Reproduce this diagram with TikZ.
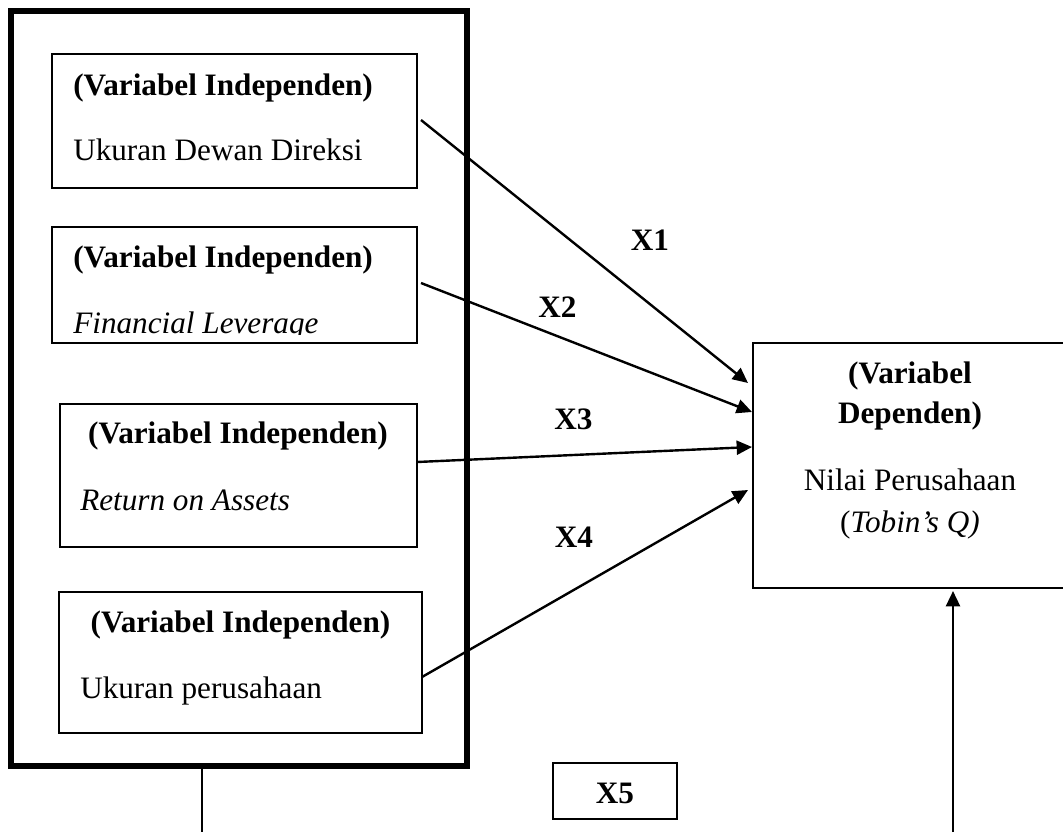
\documentclass[tikz,border=0pt]{standalone}
\usepackage{fontspec}
\setmainfont{Liberation Serif}
\usetikzlibrary{arrows.meta,fit}
\begin{document}
\begin{tikzpicture}[x=0.75pt,y=-0.75pt,
  box/.style={draw, line width=1.2pt, inner sep=0pt},
  outerbox/.style={draw, line width=3.8pt, inner sep=0pt},
  txt/.style={inner sep=0pt, font=\fontsize{23.4}{28}\selectfont},
  btxt/.style={inner sep=0pt, font=\fontsize{23.4}{28}\selectfont\bfseries},
  conn/.style={line width=1.8pt, -{Triangle[length=11.5pt,width=10.5pt]}},
  plain/.style={line width=1.6pt}]
\useasboundingbox (0,0) rectangle (1063,832);
\clip (0,0) rectangle (1063,832);

% outer frame
\node[outerbox, fit={(11,11) (467,766)}] (outer) {};

% independent boxes
\node[box, fit={(52,54) (417,188)}] (b1) {};
\node[box, fit={(52,227) (417,343)}] (b2) {};
\node[box, fit={(60,404) (417,547)}] (b3) {};
\node[box, fit={(59,592) (422,733)}] (b4) {};

\node[btxt, anchor=base west] (t1a) at (73,95) {(Variabel Independen)};
\node[txt, anchor=base west] (t1b) at (73,160) {Ukuran Dewan Direksi};
\node[btxt, anchor=base west] (t2a) at (73,267) {(Variabel Independen)};
\begin{scope}
  \clip (52,227) rectangle (417,334);
  \node[txt, anchor=base west] (t2b) at (73,333.5) {\itshape Financial Leverage};
\end{scope}
\node[btxt, anchor=base] (t3a) at (238,443) {(Variabel Independen)};
\node[txt, anchor=base west] (t3b) at (80,510.5) {\itshape Return on Assets};
\node[btxt, anchor=base] (t4a) at (240.5,632) {(Variabel Independen)};
\node[txt, anchor=base west] (t4b) at (80,698) {Ukuran perusahaan};

% dependent box
\node[box, fit={(753,343) (1075,588)}] (dep) {};
\node[btxt, anchor=base] (d1) at (910,383) {(Variabel};
\node[btxt, anchor=base] (d2) at (910,423) {Dependen)};
\node[txt, anchor=base] (d3) at (910,490) {Nilai Perusahaan};
\node[txt, anchor=base] (d4) at (910,532) {(\textit{Tobin’s Q)}};

% X5 box
\node[box, fit={(553,763) (677,819)}] (x5box) {};
\node[btxt, anchor=base] (x5) at (615,803) {X5};

% labels
\node[btxt, anchor=base] (lx1) at (650,250) {X1};
\node[btxt, anchor=base] (lx2) at (557.5,317) {X2};
\node[btxt, anchor=base] (lx3) at (573.5,429) {X3};
\node[btxt, anchor=base] (lx4) at (574,547) {X4};

% connector end points
\coordinate (s1) at (421,120);
\coordinate (s2) at (421,283);
\coordinate (s3) at (417,462);
\coordinate (s4) at (422,677);
\coordinate (e1) at (748,383);
\coordinate (e2) at (752,412);
\coordinate (e3) at (752,447);
\coordinate (e4) at (748,490);
\coordinate (q0) at (953,832);
\coordinate (q1) at (953,591);
\coordinate (o0) at (202,766);
\coordinate (o1) at (202,832);

\draw[conn] (s1) -- (e1);
\draw[conn] (s2) -- (e2);
\draw[conn] (s3) -- (e3);
\draw[conn] (s4) -- (e4);
\draw[conn] (q0) -- (q1);
\draw[plain] (o0) -- (o1);
\end{tikzpicture}
\end{document}
